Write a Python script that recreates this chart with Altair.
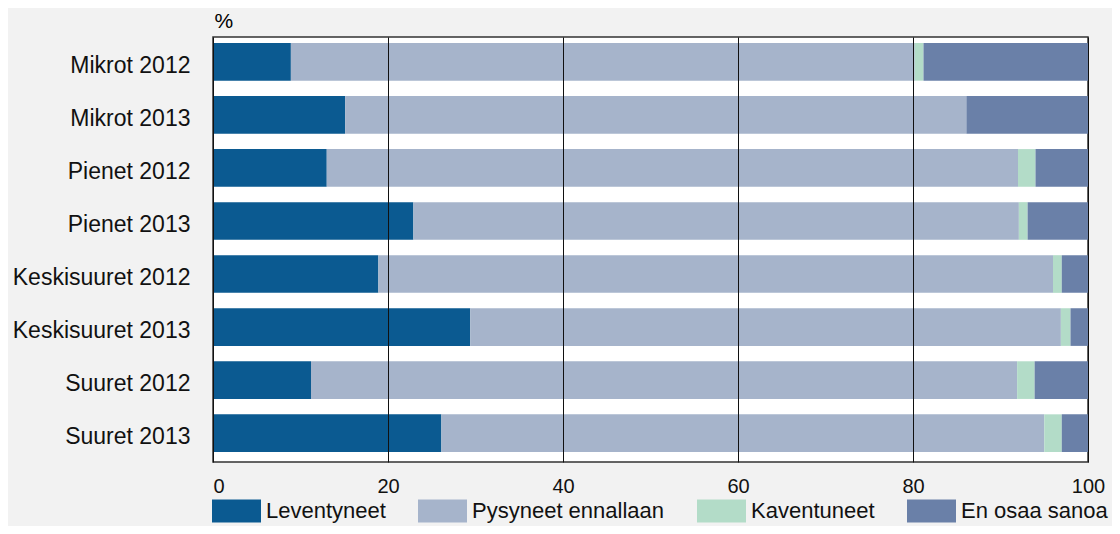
import altair as alt
import pandas as pd

categories = ["Mikrot 2012", "Mikrot 2013", "Pienet 2012", "Pienet 2013",
              "Keskisuuret 2012", "Keskisuuret 2013", "Suuret 2012", "Suuret 2013"]
series = ["Leventyneet", "Pysyneet ennallaan", "Kaventuneet", "En osaa sanoa"]
leventyneet = [8.9, 15.1, 13.0, 22.9, 18.9, 29.4, 11.2, 26.1]
pysyneet = [71.3, 71.0, 79.0, 69.2, 77.1, 67.5, 80.7, 68.9]
kaventuneet = [1.0, 0.0, 2.0, 1.0, 1.0, 1.1, 2.0, 2.0]
en_osaa = [18.8, 13.9, 6.0, 6.9, 3.0, 2.0, 6.1, 3.0]
colors = ["#0b5a91", "#a6b4cb", "#b3dcc8", "#6a80a8"]
x_ticks = [0, 20, 40, 60, 80, 100]

rows = []
for vals, name, k in zip([leventyneet, pysyneet, kaventuneet, en_osaa], series, range(4)):
    for cat, v in zip(categories, vals):
        rows.append({"cat": cat, "series": name, "value": v, "order": k})
df = pd.DataFrame(rows)

FONT = "Liberation Sans"

chart = alt.Chart(df).mark_bar().encode(
    y=alt.Y("cat:N", sort=categories,
            scale=alt.Scale(paddingInner=0.29, paddingOuter=0.151, align=0.375),
            axis=alt.Axis(title="%", titleAngle=0, titleAlign="left", titleBaseline="alphabetic",
                          titleX=1, titleY=-10, titleFontSize=21, titleFontWeight="normal",
                          titleFont=FONT, titleColor="#000000",
                          labelFontSize=23, labelFont=FONT, labelColor="#111111", labelLimit=400,
                          labelPadding=23, labelOffset=4, ticks=False, domain=False, grid=False)),
    x=alt.X("value:Q", stack="zero", scale=alt.Scale(domain=[0, 100], nice=False),
            axis=alt.Axis(title=None, values=x_ticks, grid=True, gridColor="#111111", gridWidth=1,
                          gridOpacity=1, ticks=False, domain=False, labelFontSize=20, labelFont=FONT,
                          labelColor="#111111", labelPadding=14, zindex=1, labelFlush=False,
                          labelAlign=alt.ExprRef(expr="datum.value == 0 ? 'left' : 'center'"))),
    color=alt.Color("series:N", sort=series,
                    scale=alt.Scale(domain=series, range=colors),
                    legend=alt.Legend(title=None, orient="none", direction="horizontal",
                                      legendX=-1, legendY=449,
                                      symbolType="M-1,-0.47H1V0.47H-1Z", symbolSize=2401,
                                      symbolStrokeWidth=0, symbolOpacity=1,
                                      labelFontSize=22, labelFont=FONT, labelColor="#111111",
                                      labelLimit=500, labelOffset=5, columnPadding=32, padding=0)),
    order=alt.Order("order:Q"),
).properties(
    width=875, height=425,
    autosize=alt.AutoSizeParams(type="none"),
    padding={"left": 205, "top": 29, "right": 24, "bottom": 64},
    background="#f2f2f2",
).configure_view(
    fill="#ffffff", stroke="#333333", strokeWidth=1.5
)

chart.save("out.html", embed_options={"renderer": "svg", "actions": False})
